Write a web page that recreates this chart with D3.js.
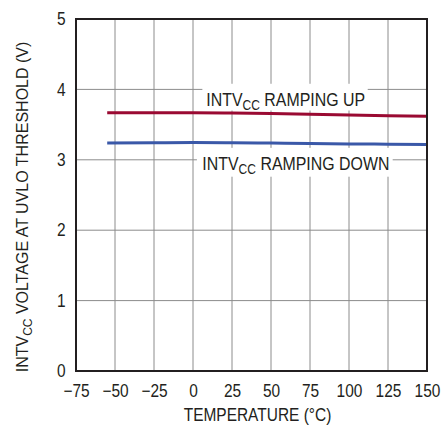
<!DOCTYPE html>
<html>
<head>
<meta charset="utf-8">
<script src="https://cdn.jsdelivr.net/npm/d3@7"></script>
<style>
  body { margin: 0; background: #fff; }
  svg text { font-family: "Liberation Sans", Arial, sans-serif; fill: #231f20; }
</style>
</head>
<body>
<div id="chart"></div>
<script>
// UVLO threshold vs temperature
const temps = [-55, -25, 0, 25, 50, 75, 100, 125, 150];
const rampUp = [3.67, 3.67, 3.67, 3.665, 3.657, 3.647, 3.637, 3.627, 3.617];
const rampDown = [3.24, 3.243, 3.245, 3.242, 3.237, 3.232, 3.226, 3.221, 3.216];
const xTicks = [-75, -50, -25, 0, 25, 50, 75, 100, 125, 150];
const yTicks = [0, 1, 2, 3, 4, 5];

const width = 441, height = 436;
const margin = { top: 19, right: 14, bottom: 65, left: 76 };
const narrow = 0.86;  // no condensed font installed, squeeze instead

const svg = d3.select("#chart").append("svg")
    .attr("width", width)
    .attr("height", height);

const x = d3.scaleLinear()
    .domain([-75, 150])
    .range([margin.left, width - margin.right]);

const y = d3.scaleLinear()
    .domain([0, 5])
    .range([height - margin.bottom, margin.top]);

// grid
svg.append("g")
    .selectAll("line.vgrid")
    .data(xTicks.slice(1, -1))
    .enter().append("line")
    .attr("x1", d => x(d)).attr("x2", d => x(d))
    .attr("y1", y(0)).attr("y2", y(5))
    .attr("stroke", "#8c8c8c").attr("stroke-width", 1);

svg.append("g")
    .selectAll("line.hgrid")
    .data(yTicks.slice(1, -1))
    .enter().append("line")
    .attr("x1", x(-75)).attr("x2", x(150))
    .attr("y1", d => y(d)).attr("y2", d => y(d))
    .attr("stroke", "#8c8c8c").attr("stroke-width", 1);

// label boxes (hide the grid behind the text)
svg.append("rect")
    .attr("x", x(6)).attr("y", y(4.08))
    .attr("width", x(112) - x(6)).attr("height", y(3.7) - y(4.08))
    .attr("fill", "#fff");
svg.append("rect")
    .attr("x", x(2.5)).attr("y", y(3.17))
    .attr("width", x(128) - x(2.5)).attr("height", y(2.76) - y(3.17))
    .attr("fill", "#fff");

// lines
const line = d3.line()
    .x((d, i) => x(temps[i]))
    .y(d => y(d))
    .curve(d3.curveMonotoneX);

svg.append("path")
    .datum(rampUp)
    .attr("d", line)
    .attr("fill", "none")
    .attr("stroke", "#9a0a32")
    .attr("stroke-width", 3);

svg.append("path")
    .datum(rampDown)
    .attr("d", line)
    .attr("fill", "none")
    .attr("stroke", "#3a58a8")
    .attr("stroke-width", 3);

// frame
svg.append("rect")
    .attr("x", x(-75)).attr("y", y(5))
    .attr("width", x(150) - x(-75)).attr("height", y(0) - y(5))
    .attr("fill", "none")
    .attr("stroke", "#231f20")
    .attr("stroke-width", 2);

// axes
svg.append("g")
    .attr("transform", `translate(0, ${y(0)})`)
    .call(d3.axisBottom(x).tickValues(xTicks).tickSize(0).tickPadding(13)
        .tickFormat(d => d < 0 ? "\u2212" + Math.abs(d) : d))
    .call(g => g.select(".domain").remove())
    .selectAll("text")
    .attr("font-size", "18px")
    .attr("transform", `scale(${narrow},1)`);

svg.append("g")
    .attr("transform", `translate(${x(-75)}, 0)`)
    .call(d3.axisLeft(y).tickValues(yTicks).tickSize(0).tickPadding(12).tickFormat(d3.format("d")))
    .call(g => g.select(".domain").remove())
    .selectAll("text")
    .attr("font-size", "18px")
    .attr("transform", `scale(${narrow},1)`);

// axis titles
svg.append("g")
    .attr("transform", `translate(${(x(-75) + x(150)) / 2 + 6}, 421) scale(${narrow},1)`)
    .append("text")
    .attr("text-anchor", "middle")
    .attr("font-size", "18px")
    .text("TEMPERATURE (°C)");

const yt = svg.append("g")
    .attr("transform", `translate(28, 207) rotate(-90)`)
    .append("text")
    .attr("text-anchor", "middle")
    .attr("font-size", "16px");
yt.append("tspan").text("INTV");
yt.append("tspan").attr("font-size", "12px").attr("dy", 4).text("CC");
yt.append("tspan").attr("dy", -4).text(" VOLTAGE AT UVLO THRESHOLD (V)");

// line labels
function label(txt, xv, yv) {
    const t = svg.append("g")
        .attr("transform", `translate(${x(xv)}, ${y(yv)}) scale(${narrow},1)`)
        .append("text")
        .attr("font-size", "18.5px");
    t.append("tspan").text("INTV");
    t.append("tspan").attr("font-size", "14px").attr("dy", 4).text("CC");
    t.append("tspan").attr("dy", -4).text(" " + txt);
}
label("RAMPING UP", 8.5, 3.77);
label("RAMPING DOWN", 6, 2.85);
</script>
</body>
</html>
